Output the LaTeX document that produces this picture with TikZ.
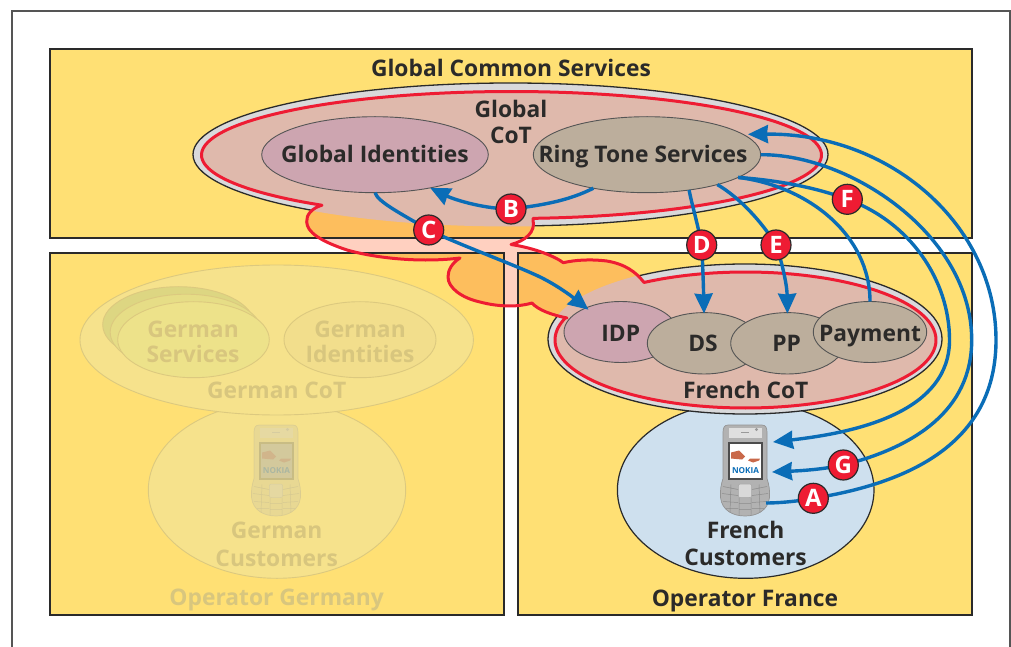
\documentclass[tikz,border=0pt]{standalone}
\usepackage{fontspec}
\setmainfont{Open Sans}
\usetikzlibrary{shapes.geometric,arrows.meta,calc}
\definecolor{cyellow}{HTML}{FFE074}
\definecolor{cpink}{HTML}{DFB9AC}
\definecolor{cring}{HTML}{D9D9DB}
\definecolor{cred}{HTML}{EE1C33}
\definecolor{cline}{HTML}{2A2A2A}
\definecolor{cmauve}{HTML}{CDA5B0}
\definecolor{ctan}{HTML}{BCAE9C}
\definecolor{cblue}{HTML}{0A6DB7}
\definecolor{ctext}{HTML}{2B2A29}
\definecolor{cframe}{HTML}{555555}
\definecolor{corange}{HTML}{FDBE5D}
\definecolor{clight}{HTML}{FFD0C0}
\definecolor{csky}{HTML}{CEE0EE}
\definecolor{gfill}{HTML}{F6E28C}
\definecolor{gstroke}{HTML}{DCC97F}
\definecolor{gtext}{HTML}{D8C67E}
\definecolor{gserva}{HTML}{EDE28A}
\definecolor{gservb}{HTML}{E6DD86}
\definecolor{gservc}{HTML}{DDD682}
\definecolor{gidfill}{HTML}{F2DE8C}
\definecolor{chand}{HTML}{C9694A}
\pgfdeclarelayer{front}
\pgfsetlayers{main,front}
\newcommand\lbl{\fontsize{22.8bp}{26.5bp}\selectfont\bfseries}
\newcommand\cloudpath{plot[domain=86:-232.3,samples=160] ({511.5+310*cos(\x)},{155+63.5*sin(\x)})
  .. controls (312,208) and (306,215) .. (306.7,222)
  .. controls (307,232) and (320,241) .. (347,250)
  .. controls (375,258) and (420,263) .. (460,258)
  .. controls (452,263) and (448,270) .. (448,277)
  .. controls (448,288) and (462,298) .. (480,302)
  .. controls (495,306) and (515,308) .. (532,303)
  .. controls (538,310) and (552,315) .. (567,318)
  -- plot[domain=199:-122.2,samples=160] ({745.5+190.5*cos(\x)},{340+68*sin(\x)})
  .. controls (636,272) and (625,264) .. (606.7,261)
  .. controls (590,259) and (575,260) .. (563.3,262.7)
  .. controls (556,257) and (535,248) .. (511,244.5)
  .. controls (525,241) and (536,232) .. (533,220) -- cycle}
\tikzset{
  x=1bp,y=-1bp,
  panel/.style={line width=1.5bp,draw=cline},
  oval/.style={ellipse,inner sep=0pt,outer sep=0pt,line width=.9bp},
  cotring/.style={oval,fill=cring,draw=cline,line width=1.3bp},
  mauve/.style={oval,fill=cmauve,draw=cline!80!white},
  tan/.style={oval,fill=ctan,draw=cline!80!white},
  germ/.style={oval,draw=gstroke},
  ttext/.style={anchor=base,align=center,text=ctext,font=\lbl,yshift=-1bp},
  gtxt/.style={anchor=base,align=center,text=gtext,font=\lbl,yshift=-1bp},
  letter/.style={circle,fill=cred,draw=cline,line width=1.2bp,minimum size=30bp,inner sep=0pt,text=white,font=\fontsize{24bp}{24bp}\selectfont\bfseries},
  conn/.style={draw=cblue,line width=3.4bp},
  arr/.style={conn,-{Stealth[length=20bp,width=18bp,inset=1bp]}},
  pics/handset/.style={code={
    \path[fill=#1!60!white,draw=#1!85!white,line width=.7bp]
      (-17,-45.5) -- (17,-45.5) .. controls (21,-45.5) and (22,-42) .. (22,-38) -- (22,8)
      .. controls (24,14) and (25,20) .. (24.5,27) .. controls (23,40) and (12,45.5) .. (0,45.5)
      .. controls (-12,45.5) and (-23,40) .. (-24.5,27) .. controls (-25,20) and (-24,14) .. (-22,8)
      -- (-22,-38) .. controls (-22,-42) and (-21,-45.5) .. (-17,-45.5) -- cycle;
    \path[fill=#1!25!white] (-16,-43) rectangle (17,-33);
    \path[fill=#1!120!black] (11.5,-41) circle[radius=1.6bp];
    \path[draw=#1!80!white,line width=.7bp] (-4,-38) -- (4,-38);
    \path[fill=#1!60!black] (-17,-29) rectangle (18,9.5);
    \path[fill=white] (-15,-27) rectangle (16,7.5);
    \path[fill=chand] (-14,-18) -- (-6,-20) -- (0,-14) -- (-3,-11) -- (-14,-12) -- cycle
      (15,-12) -- (5,-12) -- (3,-10) -- (8,-8) -- (14,-10) -- cycle;
    \node[text=cblue,font=\fontsize{8.2bp}{9bp}\selectfont\bfseries,inner sep=0pt] (#1nokia) at (0.5,0) {NOKIA};
    \path[draw=#1!70!white,fill=#1!30!white,line width=.5bp,rounded corners=2bp] (-6.7,13.5) rectangle (6.7,27);
    \path[draw=#1!90!white,line width=.5bp]
      (-6,27) -- (-6,44) (6,27) -- (6,44)  (-6,33) -- (6,33) (-6,39) -- (6,39)
      (-22,16) -- (-7,19) (7,19) -- (22,16) (-23,23) -- (-7,25) (7,25) -- (23,23)
      (-22,31) -- (-7,32) (7,32) -- (22,31) (-19,38) -- (-7,38) (7,38) -- (19,38)
      (-14,14) -- (-15,42) (14,14) -- (15,42);
  }}
}
\begin{document}
\begin{tikzpicture}
\useasboundingbox (0,0) rectangle (1011,647);
% outer frame
\draw[cframe,line width=1.6bp] (12,647) -- (12,11) -- (1010,11) -- (1010,647);
% panels
\fill[cyellow] (50,49) rectangle (972,238) (50,253) rectangle (504,615) (518,253) rectangle (972,615);
% German (faded) part
\node[germ,fill=gfill,minimum width=257.4bp,minimum height=176.6bp] (gcust) at (277,490) {};
\node[germ,fill=gfill,minimum width=393.4bp,minimum height=150bp] (gcot) at (276.7,340) {};
\node[germ,fill=gservc,minimum width=151.6bp,minimum height=76bp] (gserv3) at (178.5,324.7) {};
\node[germ,fill=gservb,minimum width=151.6bp,minimum height=76bp] (gserv2) at (186,332.2) {};
\node[germ,fill=gserva,minimum width=151.6bp,minimum height=76bp] (gserv1) at (193.5,339.7) {};
\node[germ,fill=gidfill,minimum width=152bp,minimum height=76bp] (gident) at (360,339.7) {};
\begin{scope}[opacity=.2]
\pic (gphone) at (276,470.5) {handset=gray};
\end{scope}
% French customers
\node[oval,fill=csky,draw=cline,line width=1.2bp,minimum width=256.6bp,minimum height=176.6bp] (fcust) at (745.7,490) {};
% CoT rings
\node[cotring,minimum width=635bp,minimum height=143bp] (gcotring) at (510.5,154.5) {};
\node[cotring,minimum width=394bp,minimum height=150bp] (fcotring) at (745,339) {};
% cloud
\fill[clight] \cloudpath;
\begin{scope}
\clip (50,49) rectangle (972,238) (50,253) rectangle (504,615) (518,253) rectangle (972,615);
\fill[corange] \cloudpath;
\end{scope}
\draw[panel] (50,49) rectangle (972,238) (50,253) rectangle (504,615) (518,253) rectangle (972,615);
\begin{scope}
\clip \cloudpath;
\fill[cpink] (510.5,154.5) ellipse[x radius=318bp,y radius=72bp];
\fill[cpink] (745,339) ellipse[x radius=197.5bp,y radius=75.5bp];
\end{scope}
\draw[cred,line width=3bp,line join=round] \cloudpath;
% services
\node[mauve,minimum width=226.6bp,minimum height=76bp] (gid) at (375,154.7) {};
\node[tan,minimum width=227.4bp,minimum height=76bp] (rts) at (647,154.7) {};
\node[mauve,minimum width=113.4bp,minimum height=61bp] (idp) at (620.7,332) {};
\node[tan,minimum width=113.4bp,minimum height=61.4bp] (ds) at (704,343.3) {};
\node[tan,minimum width=113.4bp,minimum height=61.4bp] (pp) at (787.4,343.3) {};
\node[tan,minimum width=113.4bp,minimum height=61bp] (pay) at (870,332) {};
% phone
\pic (fphone) at (745,470.5) {handset=gray};
\coordinate (phoneTop) at (773,442);
\coordinate (phoneMid) at (772,472);
\coordinate (phoneOut) at (766,503);
% texts
\node[ttext] (t1) at (511,76) {Global Common Services};
\node[ttext] (t2) at (511,116.7) {Global};
\node[ttext] (t3) at (511,143) {CoT};
\node[ttext] (t4) at (375,162) {Global Identities};
\node[ttext] (t5) at (643,162) {Ring Tone Services};
\node[ttext] (t6) at (620.7,340) {IDP};
\node[ttext] (t7) at (703,350) {DS};
\node[ttext] (t8) at (786.7,350) {PP};
\node[ttext] (t9) at (870,340) {Payment};
\node[ttext] (t10) at (745.7,397) {French CoT};
\node[ttext] (t11) at (745.6,537) {French};
\node[ttext] (t12) at (745.6,564) {Customers};
\node[ttext] (t13) at (745,605) {Operator France};
\node[gtxt] (g1) at (193,336) {German};
\node[gtxt] (g2) at (193,361.7) {Services};
\node[gtxt] (g3) at (360,336) {German};
\node[gtxt] (g4) at (360,361.7) {Identities};
\node[gtxt] (g5) at (276.7,397.7) {German CoT};
\node[gtxt] (g6) at (276.7,537.7) {German};
\node[gtxt] (g7) at (276.7,565) {Customers};
\node[gtxt] (g8) at (276.7,604) {Operator Germany};
% letter badges on top of connectors
\begin{pgfonlayer}{front}
\node[letter] (A) at (813.3,498.3) {A};
\node[letter] (B) at (511,209) {B};
\node[letter] (C) at (428.7,230) {C};
\node[letter] (D) at (701.7,245) {D};
\node[letter] (E) at (776,245) {E};
\node[letter] (F) at (847.3,199.3) {F};
\node[letter] (G) at (843.3,465) {G};
\end{pgfonlayer}
% connectors
\path[arr] (phoneOut) .. controls (780,503) and (800,501) .. (A.center)
  .. controls (915,482) and (996,440) .. (996,340)
  .. controls (996,225) and (890,132.7) .. ($(rts.12)+(5,0)$);
\path[arr] (rts.212) .. controls (570,200) and (545,205) .. (B.center)
  .. controls (485,209) and (455,200) .. (gid.329);
\path[arr,shorten >=-3bp] (gid.south) .. controls (378,202) and (400,213) .. (C.center)
  .. controls (460,245) and (510,263) .. (538,276)
  .. controls (555,284) and (570,295) .. (idp.145);
\path[conn] (rts.320) .. controls (692,205) and (698,225) .. (D.center);
\path[arr,shorten >=-1bp] (D.center) .. controls (703,270) and (703.5,290) .. (ds.north);
\path[conn] (rts.337) .. controls (740,198) and (762,222) .. (E.center);
\path[arr,shorten >=-1bp] (E.center) .. controls (782,262) and (787,285) .. (pp.north);
\path[conn] (rts.346) .. controls (808,186) and (870,235) .. (pay.north);
\path[conn] (rts.346) .. controls (775,180) and (815,187) .. (F.center);
\path[arr] (F.center) .. controls (910,222) and (949.5,280) .. (949.5,340)
  .. controls (949.5,410) and (862,432) .. (phoneTop);
\path[conn] (rts.east) .. controls (850,154) and (971.7,235) .. (971.7,340)
  .. controls (971.7,410) and (915,447) .. (G.center);
\path[arr] (G.center) .. controls (820,470) and (795,471) .. (phoneMid);
\end{tikzpicture}
\end{document}
